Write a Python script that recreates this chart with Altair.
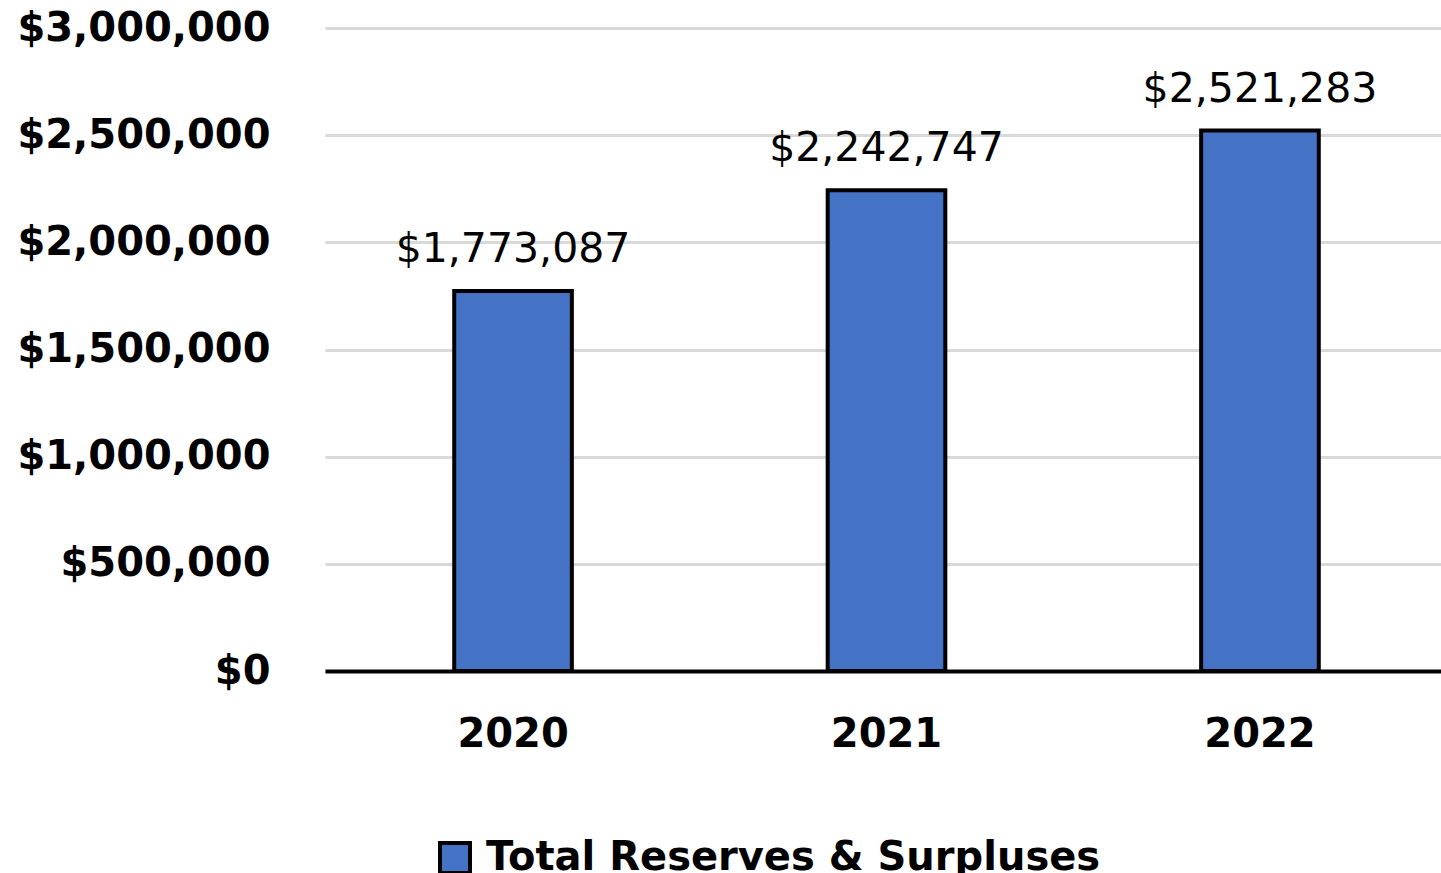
import altair as alt
import pandas as pd

# Reserve totals by year
years = ["2020", "2021", "2022"]
totals = [1773087, 2242747, 2521283]
series_name = "Total Reserves & Surpluses"
y_ticks = [0, 500000, 1000000, 1500000, 2000000, 2500000, 3000000]

df = pd.DataFrame({"year": years, "total": totals, "series": [series_name] * len(years)})

FONT = "DejaVu Sans"

x_axis = alt.Axis(
    labelAngle=0,
    labelFont=FONT,
    labelFontSize=40,
    labelFontWeight="bold",
    labelColor="#000000",
    labelPadding=43,
    ticks=False,
    domain=True,
    domainColor="#000000",
    domainWidth=4,
    grid=False,
)

y_axis = alt.Axis(
    values=y_ticks,
    format="$,.0f",
    labelFont=FONT,
    labelFontSize=40,
    labelFontWeight="bold",
    labelColor="#000000",
    labelPadding=55,
    labelLimit=400,
    ticks=False,
    domain=False,
    grid=True,
    gridColor="#d9d9d9",
    gridWidth=3,
)

x_scale = alt.Scale(paddingInner=0.685, paddingOuter=0.346, range=[0, 1123])
y_scale = alt.Scale(domain=[0, 3000000])

bars = alt.Chart(df).mark_bar(stroke="#000000", strokeWidth=4).encode(
    x=alt.X("year:N", title=None, sort=years, scale=x_scale, axis=x_axis),
    y=alt.Y("total:Q", title=None, scale=y_scale, axis=y_axis),
    color=alt.Color(
        "series:N",
        scale=alt.Scale(domain=[series_name], range=["#4472C4"]),
        legend=alt.Legend(
            title=None,
            orient="none",
            legendX=110,
            legendY=810,
            symbolType="square",
            symbolSize=900,
            symbolStrokeColor="#000000",
            symbolStrokeWidth=4,
            labelFont=FONT,
            labelFontSize=40,
            labelFontWeight="bold",
            labelColor="#000000",
            labelLimit=1000,
            labelOffset=11,
        ),
    ),
)

labels = alt.Chart(df).mark_text(
    font=FONT, fontSize=41, fontWeight="normal", color="#000000",
    baseline="alphabetic", dy=-29,
).encode(
    x=alt.X("year:N", title=None, sort=years, scale=x_scale, axis=x_axis),
    y=alt.Y("total:Q", title=None, scale=y_scale, axis=y_axis),
    text=alt.Text("total:Q", format="$,.0f"),
)

chart = (
    alt.layer(bars, labels)
    .properties(
        width=1116,
        height=643,
        background="#ffffff",
        autosize=alt.AutoSizeParams(type="none"),
        padding={"left": 325, "top": 28, "right": 0, "bottom": 202},
    )
    .configure_view(strokeWidth=0)
)

chart.save("out.html", embed_options={"renderer": "svg", "actions": False})
